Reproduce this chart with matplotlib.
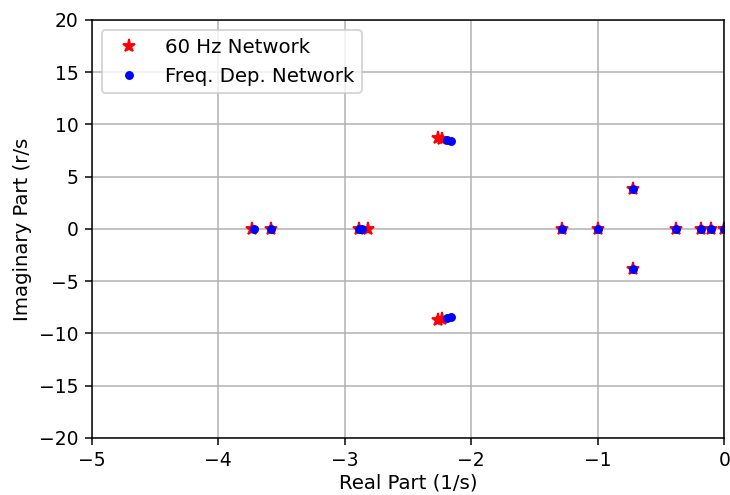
import matplotlib
matplotlib.use("Agg")
import matplotlib.pyplot as plt

# poles of the 60 Hz network model
re60 = [-3.73, -3.58, -2.89, -2.815, -2.26, -2.26, -2.23, -2.23,
        -1.28, -1.0, -0.725, -0.725, -0.38, -0.183, -0.105, -0.005]
im60 = [0, 0, 0, 0, 8.72, -8.72, 8.6, -8.6,
        0, 0, 3.85, -3.85, 0, 0, 0, 0]

# poles of the frequency dependent network model
reFD = [-3.72, -3.58, -2.885, -2.86, -2.195, -2.195, -2.16, -2.16,
        -1.28, -1.0, -0.72, -0.72, -0.38, -0.183, -0.105, -0.005]
imFD = [0, 0, 0, 0, 8.5, -8.55, 8.42, -8.38,
        0, 0, 3.8, -3.8, 0, 0, 0, 0]

DPI = 135
fig = plt.figure(figsize=(730 / DPI, 495 / DPI), dpi=DPI)
ax = fig.add_axes([0.1256, 0.1152, 0.8666, 0.8444])

ax.plot(re60, im60, 'r*', markersize=7, label='60 Hz Network')
ax.plot(reFD, imFD, 'b.', markersize=7.5, label='Freq. Dep. Network')

ax.set_xlim(-5, 0)
ax.set_ylim(-20, 20)
ax.set_xlabel('Real Part (1/s)', fontsize=10.5, labelpad=2)
ax.set_ylabel('Imaginary Part (r/s', fontsize=10.5)
ax.grid(True)
ax.legend(loc='upper left', fontsize=10.5)

fig.savefig('out.png', dpi=DPI)
